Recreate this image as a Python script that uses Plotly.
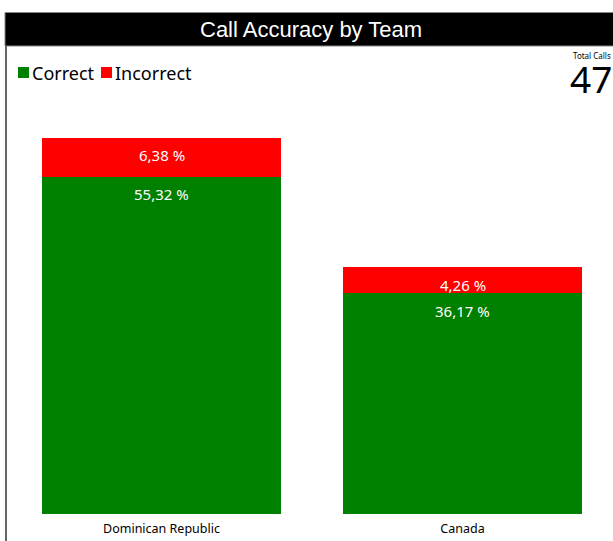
import plotly.graph_objects as go

teams = ["Dominican Republic", "Canada"]
correct_pct = [55.32, 36.17]
incorrect_pct = [6.38, 4.26]
series_names = ["Correct", "Incorrect"]
series_colors = ["#008000", "#FF0000"]
total_calls = 47
title_text = "Call Accuracy by Team"

W, H = 613, 541
ML, MR, MT, MB = 11, 0, 100, 27
PW, PH = W - ML - MR, H - MT - MB


def px_x(px):
    return (px - ML) / PW


def px_y(py):
    return (H - MB - py) / PH


def fmt(v):
    return f"{v:.2f} %".replace(".", ",")


fig = go.Figure()
for name, vals, col in zip(series_names, [correct_pct, incorrect_pct], series_colors):
    fig.add_trace(go.Bar(x=teams, y=vals, name=name, marker=dict(color=col, line=dict(width=0)),
                         showlegend=False))

annotations = []
# value labels near the top of each segment
for i, t in enumerate(teams):
    base = 0
    for vals in [correct_pct, incorrect_pct]:
        top = base + vals[i]
        annotations.append(dict(x=t, y=top, xref="x", yref="y", text=fmt(vals[i]), showarrow=False,
                                yshift=-17.5, font=dict(family="Noto Sans", size=15, color="white")))
        base = top

# title
annotations.append(dict(x=px_x(311), y=px_y(30), xref="paper", yref="paper", text=title_text,
                        showarrow=False, xanchor="center", yanchor="middle",
                        font=dict(family="Liberation Sans", size=22, color="white")))

# custom legend
shapes = []
leg_items = [(18, 30), (101, 113)]
for (sx, tx), name, col in zip(leg_items, series_names, series_colors):
    shapes.append(dict(type="rect", xref="paper", yref="paper", x0=px_x(sx), x1=px_x(sx + 11),
                       y0=px_y(78), y1=px_y(67), fillcolor=col, line=dict(width=0)))
    annotations.append(dict(x=px_x(tx), y=px_y(73), xref="paper", yref="paper", text=name,
                            showarrow=False, xanchor="left", yanchor="middle",
                            font=dict(family="Noto Sans", size=18, color="black")))

# KPI card
annotations.append(dict(x=px_x(592), y=px_y(56), xref="paper", yref="paper", text="Total Calls",
                        showarrow=False, xanchor="center", yanchor="middle",
                        font=dict(family="Noto Sans", size=8, color="black")))
annotations.append(dict(x=px_x(591), y=px_y(78), xref="paper", yref="paper", text=str(total_calls),
                        showarrow=False, xanchor="center", yanchor="middle",
                        font=dict(family="Noto Sans", size=37, color="black")))

# title bar and frame
shapes.append(dict(type="rect", xref="paper", yref="paper", x0=px_x(5), x1=px_x(614),
                   y0=px_y(46), y1=px_y(12.5), fillcolor="black", line=dict(color="#888888", width=1),
                   layer="below"))
shapes.append(dict(type="line", xref="paper", yref="paper", x0=px_x(6), x1=px_x(6),
                   y0=px_y(542), y1=px_y(46), line=dict(color="#666666", width=2)))

fig.update_layout(
    width=W, height=H,
    margin=dict(l=ML, r=MR, t=MT, b=MB, pad=0),
    barmode="stack", bargap=0.203,
    paper_bgcolor="white", plot_bgcolor="white",
    xaxis=dict(range=[-0.5, 1.5], showgrid=False, zeroline=False, showline=False, ticks="",
               ticklabelstandoff=5,
               tickfont=dict(family="Noto Sans", size=12.5, color="black"), fixedrange=True),
    yaxis=dict(range=[0, 67.88], visible=False, showgrid=False, zeroline=False, fixedrange=True),
    annotations=annotations, shapes=shapes,
    showlegend=False,
)

fig.write_html("out.html", config={"displayModeBar": False},
               post_script="document.body.style.margin='0';document.body.style.overflow='hidden';")
